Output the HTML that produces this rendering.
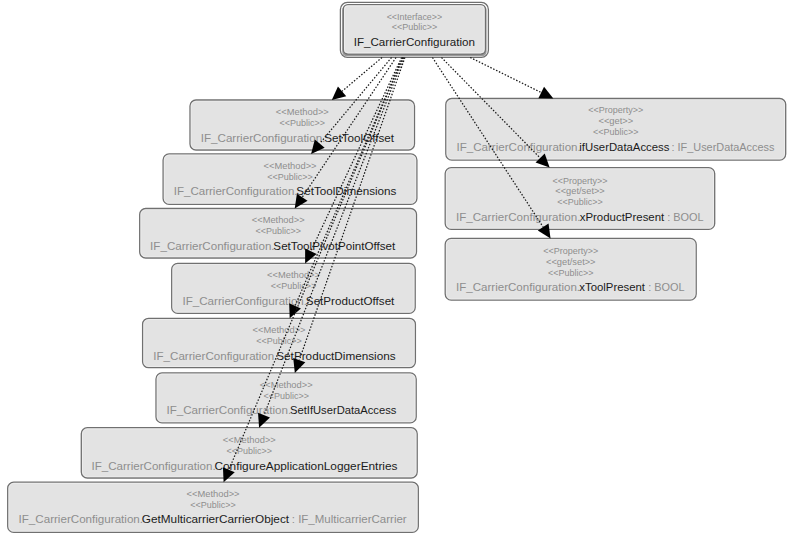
<!DOCTYPE html><html><head><meta charset="utf-8"><style>html,body{margin:0;padding:0;background:#fff;width:788px;height:534px;overflow:hidden}svg{display:block}text{font-family:"Liberation Sans",sans-serif}</style></head><body>
<svg width="788" height="534" viewBox="0 0 788 534">
<defs><filter id="bl" x="-5%" y="-10%" width="110%" height="120%"><feGaussianBlur stdDeviation="0.7"/></filter></defs>
<rect x="340.4" y="2.4" width="148" height="54.9" rx="7" ry="7" fill="#fff" stroke="#707070" stroke-width="1.3"/>
<rect x="342.2" y="5.5" width="144.4" height="50.8" rx="4.5" ry="4.5" fill="#9a9a9a" filter="url(#bl)"/>
<rect x="343.3" y="4.6" width="142.1" height="49.5" rx="4.5" ry="4.5" fill="#e3e3e3" stroke="#707070" stroke-width="1.3"/>
<rect x="344.6" y="5.9" width="139.5" height="46.9" rx="3.5" ry="3.5" fill="none" stroke="#f2f2f2" stroke-width="0.9" opacity="0.8"/>
<text x="386.66" y="19.60" font-size="9" fill="#8e8e8e" textLength="55.58" lengthAdjust="spacingAndGlyphs">&lt;&lt;Interface&gt;&gt;</text>
<text x="391.66" y="30.20" font-size="9" fill="#8e8e8e" textLength="45.58" lengthAdjust="spacingAndGlyphs">&lt;&lt;Public&gt;&gt;</text>
<text x="353.73" y="45.90" font-size="11.5" fill="#1b1b1b" textLength="121.22" lengthAdjust="spacingAndGlyphs">IF_CarrierConfiguration</text>
<rect x="190.0" y="100.0" width="224.5" height="50.0" rx="6" ry="6" fill="#e3e3e3" stroke="#707070" stroke-width="1.3"/>
<rect x="191.2" y="101.2" width="222.1" height="47.6" rx="4.8" ry="4.8" fill="none" stroke="#f4f4f4" stroke-width="0.9" opacity="0.55"/>
<text x="275.89" y="115.10" font-size="9" fill="#8e8e8e" textLength="52.92" lengthAdjust="spacingAndGlyphs">&lt;&lt;Method&gt;&gt;</text>
<text x="279.61" y="126.00" font-size="9" fill="#8e8e8e" textLength="45.48" lengthAdjust="spacingAndGlyphs">&lt;&lt;Public&gt;&gt;</text>
<text x="200.73" y="141.50" font-size="11.5" fill="#8e8e8e" textLength="124.63" lengthAdjust="spacingAndGlyphs">IF_CarrierConfiguration.</text>
<text x="324.18" y="141.50" font-size="11.5" fill="#1b1b1b" textLength="69.90" lengthAdjust="spacingAndGlyphs">SetToolOffset</text>
<rect x="163.1" y="153.9" width="253.8" height="50.5" rx="6" ry="6" fill="#e3e3e3" stroke="#707070" stroke-width="1.3"/>
<rect x="164.3" y="155.1" width="251.4" height="48.1" rx="4.8" ry="4.8" fill="none" stroke="#f4f4f4" stroke-width="0.9" opacity="0.55"/>
<text x="263.64" y="168.65" font-size="9" fill="#8e8e8e" textLength="52.92" lengthAdjust="spacingAndGlyphs">&lt;&lt;Method&gt;&gt;</text>
<text x="267.36" y="179.55" font-size="9" fill="#8e8e8e" textLength="45.48" lengthAdjust="spacingAndGlyphs">&lt;&lt;Public&gt;&gt;</text>
<text x="173.73" y="195.05" font-size="11.5" fill="#8e8e8e" textLength="123.82" lengthAdjust="spacingAndGlyphs">IF_CarrierConfiguration.</text>
<text x="296.38" y="195.05" font-size="11.5" fill="#1b1b1b" textLength="100.04" lengthAdjust="spacingAndGlyphs">SetToolDimensions</text>
<rect x="139.7" y="208.5" width="276.8" height="49.5" rx="6" ry="6" fill="#e3e3e3" stroke="#707070" stroke-width="1.3"/>
<rect x="140.9" y="209.7" width="274.4" height="47.1" rx="4.8" ry="4.8" fill="none" stroke="#f4f4f4" stroke-width="0.9" opacity="0.55"/>
<text x="251.74" y="223.30" font-size="9" fill="#8e8e8e" textLength="52.92" lengthAdjust="spacingAndGlyphs">&lt;&lt;Method&gt;&gt;</text>
<text x="255.46" y="234.20" font-size="9" fill="#8e8e8e" textLength="45.48" lengthAdjust="spacingAndGlyphs">&lt;&lt;Public&gt;&gt;</text>
<text x="150.13" y="249.70" font-size="11.5" fill="#8e8e8e" textLength="124.43" lengthAdjust="spacingAndGlyphs">IF_CarrierConfiguration.</text>
<text x="273.38" y="249.70" font-size="11.5" fill="#1b1b1b" textLength="121.91" lengthAdjust="spacingAndGlyphs">SetToolPivotPointOffset</text>
<rect x="171.7" y="263.4" width="243.5" height="50.0" rx="6" ry="6" fill="#e3e3e3" stroke="#707070" stroke-width="1.3"/>
<rect x="172.9" y="264.6" width="241.1" height="47.6" rx="4.8" ry="4.8" fill="none" stroke="#f4f4f4" stroke-width="0.9" opacity="0.55"/>
<text x="267.09" y="278.40" font-size="9" fill="#8e8e8e" textLength="52.92" lengthAdjust="spacingAndGlyphs">&lt;&lt;Method&gt;&gt;</text>
<text x="270.81" y="289.30" font-size="9" fill="#8e8e8e" textLength="45.48" lengthAdjust="spacingAndGlyphs">&lt;&lt;Public&gt;&gt;</text>
<text x="182.43" y="304.80" font-size="11.5" fill="#8e8e8e" textLength="124.63" lengthAdjust="spacingAndGlyphs">IF_CarrierConfiguration.</text>
<text x="305.87" y="304.80" font-size="11.5" fill="#1b1b1b" textLength="88.51" lengthAdjust="spacingAndGlyphs">SetProductOffset</text>
<rect x="142.6" y="318.3" width="272.8" height="49.4" rx="6" ry="6" fill="#e3e3e3" stroke="#707070" stroke-width="1.3"/>
<rect x="143.8" y="319.5" width="270.4" height="47.0" rx="4.8" ry="4.8" fill="none" stroke="#f4f4f4" stroke-width="0.9" opacity="0.55"/>
<text x="252.64" y="333.40" font-size="9" fill="#8e8e8e" textLength="52.92" lengthAdjust="spacingAndGlyphs">&lt;&lt;Method&gt;&gt;</text>
<text x="256.36" y="344.30" font-size="9" fill="#8e8e8e" textLength="45.48" lengthAdjust="spacingAndGlyphs">&lt;&lt;Public&gt;&gt;</text>
<text x="153.33" y="359.80" font-size="11.5" fill="#8e8e8e" textLength="124.12" lengthAdjust="spacingAndGlyphs">IF_CarrierConfiguration.</text>
<text x="276.27" y="359.80" font-size="11.5" fill="#1b1b1b" textLength="119.36" lengthAdjust="spacingAndGlyphs">SetProductDimensions</text>
<rect x="156.0" y="372.9" width="260.2" height="50.0" rx="6" ry="6" fill="#e3e3e3" stroke="#707070" stroke-width="1.3"/>
<rect x="157.2" y="374.1" width="257.8" height="47.6" rx="4.8" ry="4.8" fill="none" stroke="#f4f4f4" stroke-width="0.9" opacity="0.55"/>
<text x="259.74" y="387.70" font-size="9" fill="#8e8e8e" textLength="52.92" lengthAdjust="spacingAndGlyphs">&lt;&lt;Method&gt;&gt;</text>
<text x="263.46" y="398.60" font-size="9" fill="#8e8e8e" textLength="45.48" lengthAdjust="spacingAndGlyphs">&lt;&lt;Public&gt;&gt;</text>
<text x="166.43" y="414.10" font-size="11.5" fill="#8e8e8e" textLength="124.73" lengthAdjust="spacingAndGlyphs">IF_CarrierConfiguration.</text>
<text x="289.99" y="414.10" font-size="11.5" fill="#1b1b1b" textLength="106.41" lengthAdjust="spacingAndGlyphs">SetIfUserDataAccess</text>
<rect x="81.3" y="427.7" width="335.9" height="50.3" rx="6" ry="6" fill="#e3e3e3" stroke="#707070" stroke-width="1.3"/>
<rect x="82.5" y="428.9" width="333.5" height="47.9" rx="4.8" ry="4.8" fill="none" stroke="#f4f4f4" stroke-width="0.9" opacity="0.55"/>
<text x="222.89" y="443.40" font-size="9" fill="#8e8e8e" textLength="52.92" lengthAdjust="spacingAndGlyphs">&lt;&lt;Method&gt;&gt;</text>
<text x="226.61" y="454.30" font-size="9" fill="#8e8e8e" textLength="45.48" lengthAdjust="spacingAndGlyphs">&lt;&lt;Public&gt;&gt;</text>
<text x="91.43" y="469.80" font-size="11.5" fill="#8e8e8e" textLength="124.23" lengthAdjust="spacingAndGlyphs">IF_CarrierConfiguration.</text>
<text x="214.40" y="469.80" font-size="11.5" fill="#1b1b1b" textLength="183.13" lengthAdjust="spacingAndGlyphs">ConfigureApplicationLoggerEntries</text>
<rect x="7.7" y="482.2" width="410.6" height="50.2" rx="6" ry="6" fill="#e3e3e3" stroke="#707070" stroke-width="1.3"/>
<rect x="8.9" y="483.4" width="408.2" height="47.8" rx="4.8" ry="4.8" fill="none" stroke="#f4f4f4" stroke-width="0.9" opacity="0.55"/>
<text x="186.64" y="496.60" font-size="9" fill="#8e8e8e" textLength="52.92" lengthAdjust="spacingAndGlyphs">&lt;&lt;Method&gt;&gt;</text>
<text x="190.36" y="507.50" font-size="9" fill="#8e8e8e" textLength="45.48" lengthAdjust="spacingAndGlyphs">&lt;&lt;Public&gt;&gt;</text>
<text x="18.53" y="523.00" font-size="11.5" fill="#8e8e8e" textLength="124.53" lengthAdjust="spacingAndGlyphs">IF_CarrierConfiguration.</text>
<text x="141.81" y="523.00" font-size="11.5" fill="#1b1b1b" textLength="147.28" lengthAdjust="spacingAndGlyphs">GetMulticarrierCarrierObject</text>
<text x="291.75" y="523.00" font-size="11.5" fill="#8e8e8e" textLength="114.94" lengthAdjust="spacingAndGlyphs">: IF_MulticarrierCarrier</text>
<rect x="445.8" y="98.5" width="339.9" height="61.6" rx="6" ry="6" fill="#e3e3e3" stroke="#707070" stroke-width="1.3"/>
<rect x="447.0" y="99.7" width="337.5" height="59.2" rx="4.8" ry="4.8" fill="none" stroke="#f4f4f4" stroke-width="0.9" opacity="0.55"/>
<text x="588.36" y="113.45" font-size="9" fill="#8e8e8e" textLength="54.98" lengthAdjust="spacingAndGlyphs">&lt;&lt;Property&gt;&gt;</text>
<text x="598.44" y="124.35" font-size="9" fill="#8e8e8e" textLength="34.82" lengthAdjust="spacingAndGlyphs">&lt;&lt;get&gt;&gt;</text>
<text x="593.11" y="135.25" font-size="9" fill="#8e8e8e" textLength="45.48" lengthAdjust="spacingAndGlyphs">&lt;&lt;Public&gt;&gt;</text>
<text x="456.43" y="150.75" font-size="11.5" fill="#8e8e8e" textLength="124.33" lengthAdjust="spacingAndGlyphs">IF_CarrierConfiguration.</text>
<text x="579.34" y="150.75" font-size="11.5" fill="#1b1b1b" textLength="90.07" lengthAdjust="spacingAndGlyphs">ifUserDataAccess</text>
<text x="671.51" y="150.75" font-size="11.5" fill="#8e8e8e" textLength="102.89" lengthAdjust="spacingAndGlyphs">: IF_UserDataAccess</text>
<rect x="445.2" y="167.6" width="269.5" height="61.8" rx="6" ry="6" fill="#e3e3e3" stroke="#707070" stroke-width="1.3"/>
<rect x="446.4" y="168.8" width="267.1" height="59.4" rx="4.8" ry="4.8" fill="none" stroke="#f4f4f4" stroke-width="0.9" opacity="0.55"/>
<text x="552.56" y="183.50" font-size="9" fill="#8e8e8e" textLength="54.98" lengthAdjust="spacingAndGlyphs">&lt;&lt;Property&gt;&gt;</text>
<text x="555.29" y="194.40" font-size="9" fill="#8e8e8e" textLength="49.51" lengthAdjust="spacingAndGlyphs">&lt;&lt;get/set&gt;&gt;</text>
<text x="557.31" y="205.30" font-size="9" fill="#8e8e8e" textLength="45.48" lengthAdjust="spacingAndGlyphs">&lt;&lt;Public&gt;&gt;</text>
<text x="455.93" y="220.80" font-size="11.5" fill="#8e8e8e" textLength="124.53" lengthAdjust="spacingAndGlyphs">IF_CarrierConfiguration.</text>
<text x="579.67" y="220.80" font-size="11.5" fill="#1b1b1b" textLength="84.61" lengthAdjust="spacingAndGlyphs">xProductPresent</text>
<text x="667.20" y="220.80" font-size="11.5" fill="#8e8e8e" textLength="36.46" lengthAdjust="spacingAndGlyphs">: BOOL</text>
<rect x="445.2" y="238.4" width="251.0" height="61.7" rx="6" ry="6" fill="#e3e3e3" stroke="#707070" stroke-width="1.3"/>
<rect x="446.4" y="239.6" width="248.6" height="59.3" rx="4.8" ry="4.8" fill="none" stroke="#f4f4f4" stroke-width="0.9" opacity="0.55"/>
<text x="543.31" y="253.90" font-size="9" fill="#8e8e8e" textLength="54.98" lengthAdjust="spacingAndGlyphs">&lt;&lt;Property&gt;&gt;</text>
<text x="546.04" y="264.80" font-size="9" fill="#8e8e8e" textLength="49.51" lengthAdjust="spacingAndGlyphs">&lt;&lt;get/set&gt;&gt;</text>
<text x="548.06" y="275.70" font-size="9" fill="#8e8e8e" textLength="45.48" lengthAdjust="spacingAndGlyphs">&lt;&lt;Public&gt;&gt;</text>
<text x="455.93" y="291.20" font-size="11.5" fill="#8e8e8e" textLength="124.12" lengthAdjust="spacingAndGlyphs">IF_CarrierConfiguration.</text>
<text x="579.27" y="291.20" font-size="11.5" fill="#1b1b1b" textLength="65.71" lengthAdjust="spacingAndGlyphs">xToolPresent</text>
<text x="648.20" y="291.20" font-size="11.5" fill="#8e8e8e" textLength="36.46" lengthAdjust="spacingAndGlyphs">: BOOL</text>
<line x1="382.01" y1="57.50" x2="342.09" y2="91.28" stroke="#1a1a1a" stroke-width="1.25" stroke-dasharray="1.5 1.7"/>
<polygon points="331.79,100.00 337.96,86.39 346.23,96.16" fill="#000"/>
<line x1="391.54" y1="57.50" x2="319.73" y2="143.54" stroke="#1a1a1a" stroke-width="1.25" stroke-dasharray="1.5 1.7"/>
<polygon points="311.08,153.90 314.81,139.43 324.64,147.64" fill="#000"/>
<line x1="396.04" y1="57.50" x2="302.23" y2="197.29" stroke="#1a1a1a" stroke-width="1.25" stroke-dasharray="1.5 1.7"/>
<polygon points="294.71,208.50 296.92,193.72 307.55,200.86" fill="#000"/>
<line x1="401.62" y1="57.50" x2="310.89" y2="251.17" stroke="#1a1a1a" stroke-width="1.25" stroke-dasharray="1.5 1.7"/>
<polygon points="305.16,263.40 305.09,248.46 316.68,253.89" fill="#000"/>
<line x1="402.60" y1="57.50" x2="295.06" y2="305.91" stroke="#1a1a1a" stroke-width="1.25" stroke-dasharray="1.5 1.7"/>
<polygon points="289.69,318.30 289.18,303.37 300.93,308.45" fill="#000"/>
<line x1="404.90" y1="57.50" x2="299.27" y2="360.15" stroke="#1a1a1a" stroke-width="1.25" stroke-dasharray="1.5 1.7"/>
<polygon points="294.83,372.90 293.23,358.05 305.32,362.26" fill="#000"/>
<line x1="403.75" y1="57.50" x2="263.99" y2="415.13" stroke="#1a1a1a" stroke-width="1.25" stroke-dasharray="1.5 1.7"/>
<polygon points="259.08,427.70 258.03,412.80 269.95,417.46" fill="#000"/>
<line x1="402.89" y1="57.50" x2="228.85" y2="469.76" stroke="#1a1a1a" stroke-width="1.25" stroke-dasharray="1.5 1.7"/>
<polygon points="223.60,482.20 222.95,467.27 234.74,472.25" fill="#000"/>
<line x1="470.23" y1="57.50" x2="541.22" y2="92.53" stroke="#1a1a1a" stroke-width="1.25" stroke-dasharray="1.5 1.7"/>
<polygon points="553.33,98.50 538.39,98.27 544.05,86.79" fill="#000"/>
<line x1="441.50" y1="57.50" x2="540.15" y2="157.97" stroke="#1a1a1a" stroke-width="1.25" stroke-dasharray="1.5 1.7"/>
<polygon points="549.61,167.60 535.58,162.45 544.72,153.48" fill="#000"/>
<line x1="432.45" y1="57.50" x2="543.18" y2="227.10" stroke="#1a1a1a" stroke-width="1.25" stroke-dasharray="1.5 1.7"/>
<polygon points="550.56,238.40 537.82,230.59 548.54,223.60" fill="#000"/>
</svg></body></html>
